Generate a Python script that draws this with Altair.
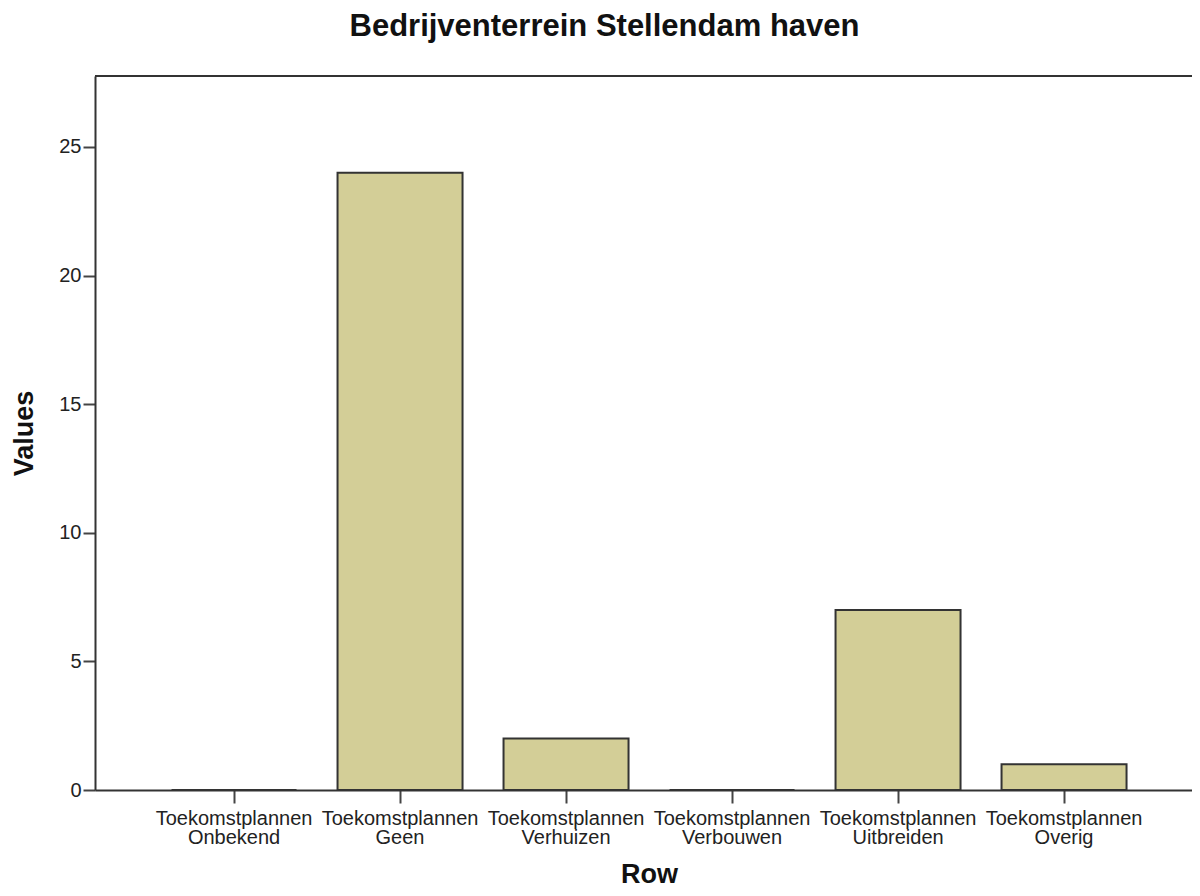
import altair as alt
import pandas as pd

categories = [
    "Toekomstplannen Onbekend",
    "Toekomstplannen Geen",
    "Toekomstplannen Verhuizen",
    "Toekomstplannen Verbouwen",
    "Toekomstplannen Uitbreiden",
    "Toekomstplannen Overig",
]
values = [0, 24, 2, 0, 7, 1]
y_ticks = [0, 5, 10, 15, 20, 25]

df = pd.DataFrame({"Row": categories, "Values": values})

W, H = 1097, 714
FONT = "Liberation Sans, Arial, sans-serif"

bars = alt.Chart(df).mark_bar(
    fill="#D3CE97", stroke="#333333", strokeWidth=2
).encode(
    x=alt.X(
        "Row:N",
        sort=categories,
        scale=alt.Scale(paddingInner=0.247, paddingOuter=0.4277, align=0.539),
        axis=alt.Axis(
            title="Row",
            labelAngle=0,
            labelExpr="split(datum.label, ' ')",
            labelFont=FONT,
            labelFontSize=20,
            labelColor="#222222",
            labelLineHeight=19,
            labelBaseline="top",
            labelPadding=5,
            labelLimit=300,
            labelOverlap=False,
            tickSize=13,
            tickWidth=2,
            tickColor="#444444",
            domainColor="#333333",
            domainWidth=2,
            titleFont=FONT,
            titleFontSize=27,
            titleFontWeight="bold",
            titleColor="#111111",
            titleX=554,
            titleY=92,
            titleBaseline="alphabetic",
            titleAlign="center",
        ),
    ),
    y=alt.Y(
        "Values:Q",
        scale=alt.Scale(domain=[0, 27.76], nice=False, zero=True),
        axis=alt.Axis(
            title="Values",
            values=y_ticks,
            grid=False,
            labelFont=FONT,
            labelFontSize=20,
            labelColor="#222222",
            labelPadding=2,
            tickSize=12,
            tickWidth=2,
            tickColor="#444444",
            domainColor="#333333",
            domainWidth=2,
            titleFont=FONT,
            titleFontSize=27,
            titleFontWeight="bold",
            titleColor="#111111",
            titleAngle=-90,
            titleX=-63,
            titleY=357,
            titleAlign="center",
            titleBaseline="alphabetic",
        ),
    ),
)

top_rule = alt.Chart(df).mark_rule(color="#333333", strokeWidth=2).encode(
    x=alt.value(0), x2=alt.value(W), y=alt.value(0)
)

chart = alt.layer(bars, top_rule).properties(
    width=W,
    height=H,
    title=alt.TitleParams(
        "Bedrijventerrein Stellendam haven",
        font=FONT,
        fontSize=31,
        fontWeight="bold",
        color="#111111",
        anchor="middle",
        dx=-39,
        baseline="alphabetic",
        offset=8,
    ),
    autosize=alt.AutoSizeParams(type="none"),
    padding={"left": 87, "top": 68, "right": 0, "bottom": 98},
).configure_view(
    fill="#F0F0F0", stroke=None
).configure(background="white")

chart.save("out.html", embed_options={"renderer": "svg", "actions": False})
